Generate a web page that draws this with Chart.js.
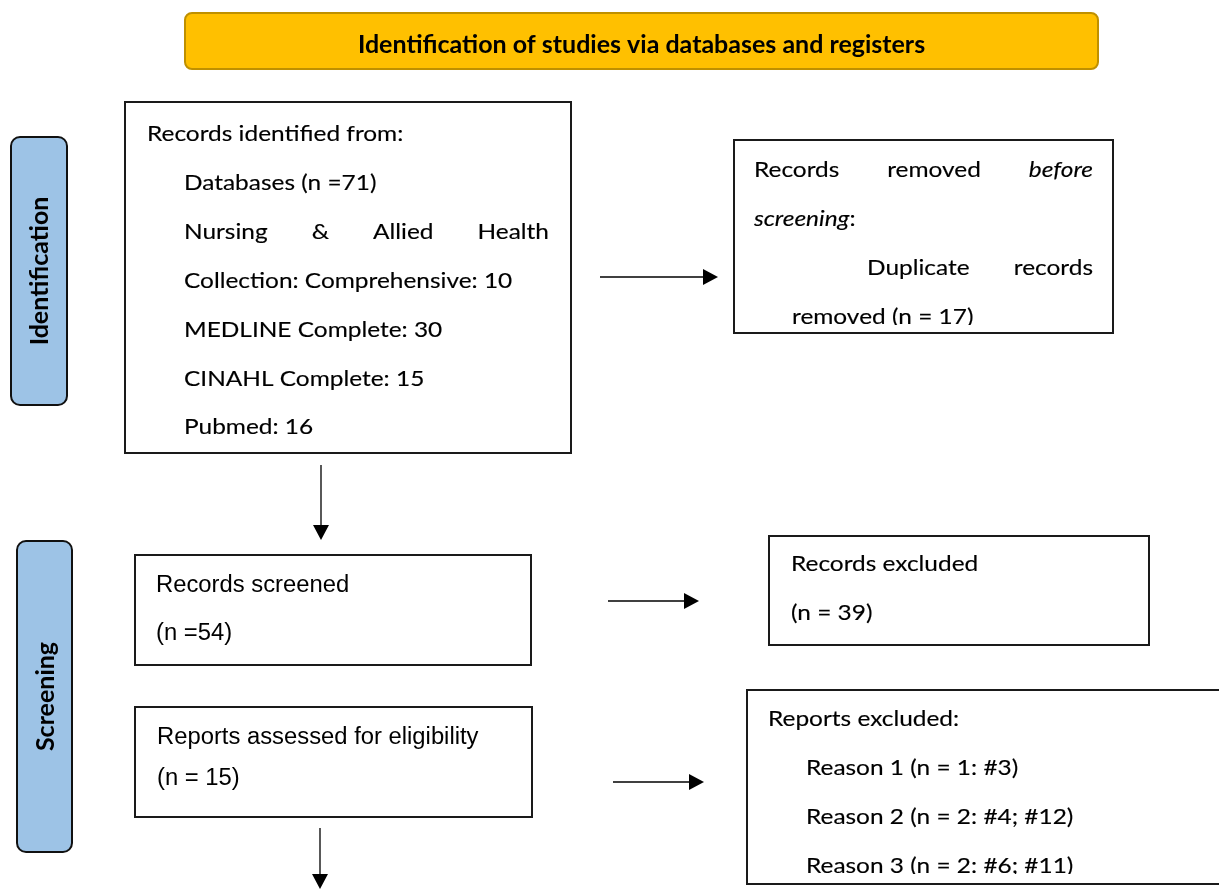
<!DOCTYPE html>
<html>
<head>
<meta charset="utf-8">
<script src="https://cdn.jsdelivr.net/npm/chart.js@4.4.1/dist/chart.umd.min.js"></script>
<style>
  html, body { margin: 0; padding: 0; background: #fff; }
  #wrap { width: 1219px; height: 891px; position: relative; }
</style>
</head>
<body>
<div id="wrap"><canvas id="prisma"></canvas></div>
<script>
// ---- data ----
const headerTitle = 'Identification of studies via databases and registers';
const stageLabels = ['Identification', 'Screening'];
const databaseTotal = 71;
const databaseNames = ['Nursing & Allied Health Collection: Comprehensive', 'MEDLINE Complete', 'CINAHL Complete', 'Pubmed'];
const databaseCounts = [10, 30, 15, 16];
const duplicatesRemoved = 17;
const recordsScreened = 54;
const recordsExcluded = 39;
const reportsAssessed = 15;
const exclusionReasons = ['Reason 1', 'Reason 2', 'Reason 3'];
const exclusionCounts = [1, 2, 2];
const exclusionRefs = [['#3'], ['#4', '#12'], ['#6', '#11']];

// ---- fonts / styles ----
const CAL = 'Lato, "Open Sans", sans-serif';
const ARIAL = '"Liberation Sans", Arial, sans-serif';
const CAL_SX = 1.11;   // Lato is narrower than the original Calibri
const ARIAL_SX = 1.035;

// long database name wraps after the 4th word in the original
const nursingWords = databaseNames[0].split(' ');

// text lines: _word_ = italic
const boxes = [
  { x0: 125, y0: 102, x1: 571, y1: 453, family: CAL, size: 22, sx: CAL_SX, left: 147, right: 549, base: 141, step: 48.9,
    lines: [
      { t: 'Records identified from:' },
      { t: `Databases (n =${databaseTotal})`, indent: 37 },
      { t: nursingWords.slice(0, 4).join(' '), indent: 37, justify: true },
      { t: `${nursingWords.slice(4).join(' ')}: ${databaseCounts[0]}`, indent: 37 },
      { t: `${databaseNames[1]}: ${databaseCounts[1]}`, indent: 37 },
      { t: `${databaseNames[2]}: ${databaseCounts[2]}`, indent: 37 },
      { t: `${databaseNames[3]}: ${databaseCounts[3]}`, indent: 37 }
    ] },
  { x0: 734, y0: 140, x1: 1113, y1: 333, family: CAL, size: 22, sx: CAL_SX, left: 754, right: 1093, base: 177, step: 49, clipBottom: 325,
    lines: [
      { t: 'Records removed _before_', justify: true },
      { t: '_screening_:' },
      { t: 'Duplicate records', indent: 113, justify: true },
      { t: `removed (n = ${duplicatesRemoved})`, indent: 38 }
    ] },
  { x0: 135, y0: 555, x1: 531, y1: 665, family: ARIAL, size: 23, sx: ARIAL_SX, left: 156, base: 592, step: 48,
    lines: [ { t: 'Records screened' }, { t: `(n =${recordsScreened})` } ] },
  { x0: 769, y0: 536, x1: 1149, y1: 645, family: CAL, size: 22, sx: CAL_SX, left: 791, base: 571, step: 49,
    lines: [ { t: 'Records excluded' }, { t: `(n = ${recordsExcluded})` } ] },
  { x0: 135, y0: 707, x1: 532, y1: 817, family: ARIAL, size: 23, sx: ARIAL_SX, left: 157, base: 744, step: 41,
    lines: [ { t: 'Reports assessed for eligibility' }, { t: `(n = ${reportsAssessed})` } ] },
  { x0: 747, y0: 690, x1: 1226, y1: 884, family: CAL, size: 22, sx: CAL_SX, left: 768, base: 726, step: 48.9, clipBottom: 874,
    lines: [{ t: 'Reports excluded:' }].concat(exclusionReasons.map((r, i) => ({
      t: `${r} (n = ${exclusionCounts[i]}: ${exclusionRefs[i].join('; ')})`, indent: 38
    }))) }
];

const header = { x0: 185, y0: 13, x1: 1098, y1: 69 };
const stages = [
  { x0: 11, y0: 137, x1: 67, y1: 405 },
  { x0: 17, y0: 541, x1: 72, y1: 852 }
];
// arrows: start -> tip
const arrows = [
  { from: [600, 277], to: [718, 277] },
  { from: [321, 465], to: [321, 540] },
  { from: [608, 601], to: [699, 601] },
  { from: [613, 782], to: [704, 782] },
  { from: [320, 828], to: [320, 889] }
];
const HEAD = 15, HALF = 8;

function shaftEnd(a) {
  const dx = a.to[0] - a.from[0], dy = a.to[1] - a.from[1];
  const len = Math.hypot(dx, dy);
  return { x: a.to[0] - dx / len * (HEAD - 1), y: a.to[1] - dy / len * (HEAD - 1) };
}

function parseWords(str) {
  return str.split(' ').map(tok => tok.split('_').map((p, i) => ({ t: p, it: i % 2 === 1 })).filter(p => p.t.length));
}

const prismaPlugin = {
  id: 'prismaDiagram',
  afterDatasetsDraw(chart) {
    const { ctx, scales: { x, y } } = chart;
    const px = v => x.getPixelForValue(v);
    const py = v => y.getPixelForValue(v);
    ctx.save();

    // header banner
    ctx.beginPath();
    ctx.roundRect(px(header.x0), py(header.y0), px(header.x1) - px(header.x0), py(header.y1) - py(header.y0), 7);
    ctx.fillStyle = '#FFC000';
    ctx.fill();
    ctx.lineWidth = 2;
    ctx.strokeStyle = '#BF9000';
    ctx.stroke();
    ctx.fillStyle = '#000';
    ctx.font = `bold 25px ${CAL}`;
    ctx.textAlign = 'center';
    ctx.textBaseline = 'middle';
    ctx.fillText(headerTitle, px((header.x0 + header.x1) / 2), py((header.y0 + header.y1) / 2) + 4);

    // stage labels
    stages.forEach((s, i) => {
      ctx.beginPath();
      ctx.roundRect(px(s.x0), py(s.y0), px(s.x1) - px(s.x0), py(s.y1) - py(s.y0), 9);
      ctx.fillStyle = '#9DC3E6';
      ctx.fill();
      ctx.lineWidth = 2;
      ctx.strokeStyle = '#111';
      ctx.stroke();
      ctx.save();
      ctx.translate(px((s.x0 + s.x1) / 2), py((s.y0 + s.y1) / 2));
      ctx.rotate(-Math.PI / 2);
      ctx.fillStyle = '#000';
      ctx.font = `bold 25px ${CAL}`;
      ctx.textAlign = 'center';
      ctx.textBaseline = 'middle';
      ctx.fillText(stageLabels[i], 0, 1);
      ctx.restore();
    });

    // text boxes
    ctx.textAlign = 'left';
    ctx.textBaseline = 'alphabetic';
    boxes.forEach(b => {
      const bx = px(b.x0), by = py(b.y0), bw = px(b.x1) - bx, bh = py(b.y1) - by;
      ctx.fillStyle = '#fff';
      ctx.fillRect(bx, by, bw, bh);
      ctx.lineWidth = 2;
      ctx.strokeStyle = '#1a1a1a';
      ctx.strokeRect(bx, by, bw, bh);

      ctx.save();
      ctx.beginPath();
      ctx.rect(bx + 1, by + 1, bw - 2, py(b.clipBottom || b.y1 - 1) - by - 1);
      ctx.clip();
      ctx.fillStyle = '#000';
      ctx.strokeStyle = '#000';
      ctx.lineWidth = 0.15;
      const fontFor = it => `${it ? 'italic ' : ''}${b.size}px ${b.family}`;
      const wOf = p => { ctx.font = fontFor(p.it); return ctx.measureText(p.t).width * b.sx; };
      b.lines.forEach((ln, li) => {
        const words = parseWords(ln.t);
        const widths = words.map(w => w.reduce((s, p) => s + wOf(p), 0));
        const startX = px(b.left + (ln.indent || 0));
        let gap = wOf({ t: ' ', it: false });
        if (ln.justify && words.length > 1) {
          const total = widths.reduce((a, c) => a + c, 0);
          gap = (px(b.right) - startX - total) / (words.length - 1);
        }
        let cx = startX;
        const baseY = py(b.base + li * b.step);
        words.forEach(w => {
          w.forEach(p => {
            const pw = wOf(p);
            ctx.save();
            ctx.translate(cx, baseY);
            ctx.scale(b.sx, 1);
            ctx.fillText(p.t, 0, 0);
            if (b.family === CAL) ctx.strokeText(p.t, 0, 0);
            ctx.restore();
            cx += pw;
          });
          cx += gap;
        });
      });
      ctx.restore();
    });

    // arrow heads
    ctx.fillStyle = '#000';
    arrows.forEach(a => {
      const tx = px(a.to[0]), ty = py(a.to[1]);
      const fx = px(a.from[0]), fy = py(a.from[1]);
      const ang = Math.atan2(ty - fy, tx - fx);
      ctx.save();
      ctx.translate(tx, ty);
      ctx.rotate(ang);
      ctx.beginPath();
      ctx.moveTo(0, 0);
      ctx.lineTo(-HEAD, -HALF);
      ctx.lineTo(-HEAD, HALF);
      ctx.closePath();
      ctx.fill();
      ctx.restore();
    });
    ctx.restore();
  }
};

new Chart(document.getElementById('prisma'), {
  type: 'scatter',
  data: {
    datasets: arrows.map(a => {
      const e = shaftEnd(a);
      return {
        data: [{ x: a.from[0], y: a.from[1] }, { x: e.x, y: e.y }],
        showLine: true,
        borderColor: '#000',
        borderWidth: 1.3,
        pointRadius: 0
      };
    })
  },
  options: {
    responsive: true,
    maintainAspectRatio: false,
    animation: false,
    layout: { padding: 0 },
    plugins: { legend: { display: false }, tooltip: { enabled: false } },
    scales: {
      x: { type: 'linear', min: 0, max: 1219, display: false },
      y: { type: 'linear', min: 0, max: 891, reverse: true, display: false }
    }
  },
  plugins: [prismaPlugin]
});
</script>
</body>
</html>
